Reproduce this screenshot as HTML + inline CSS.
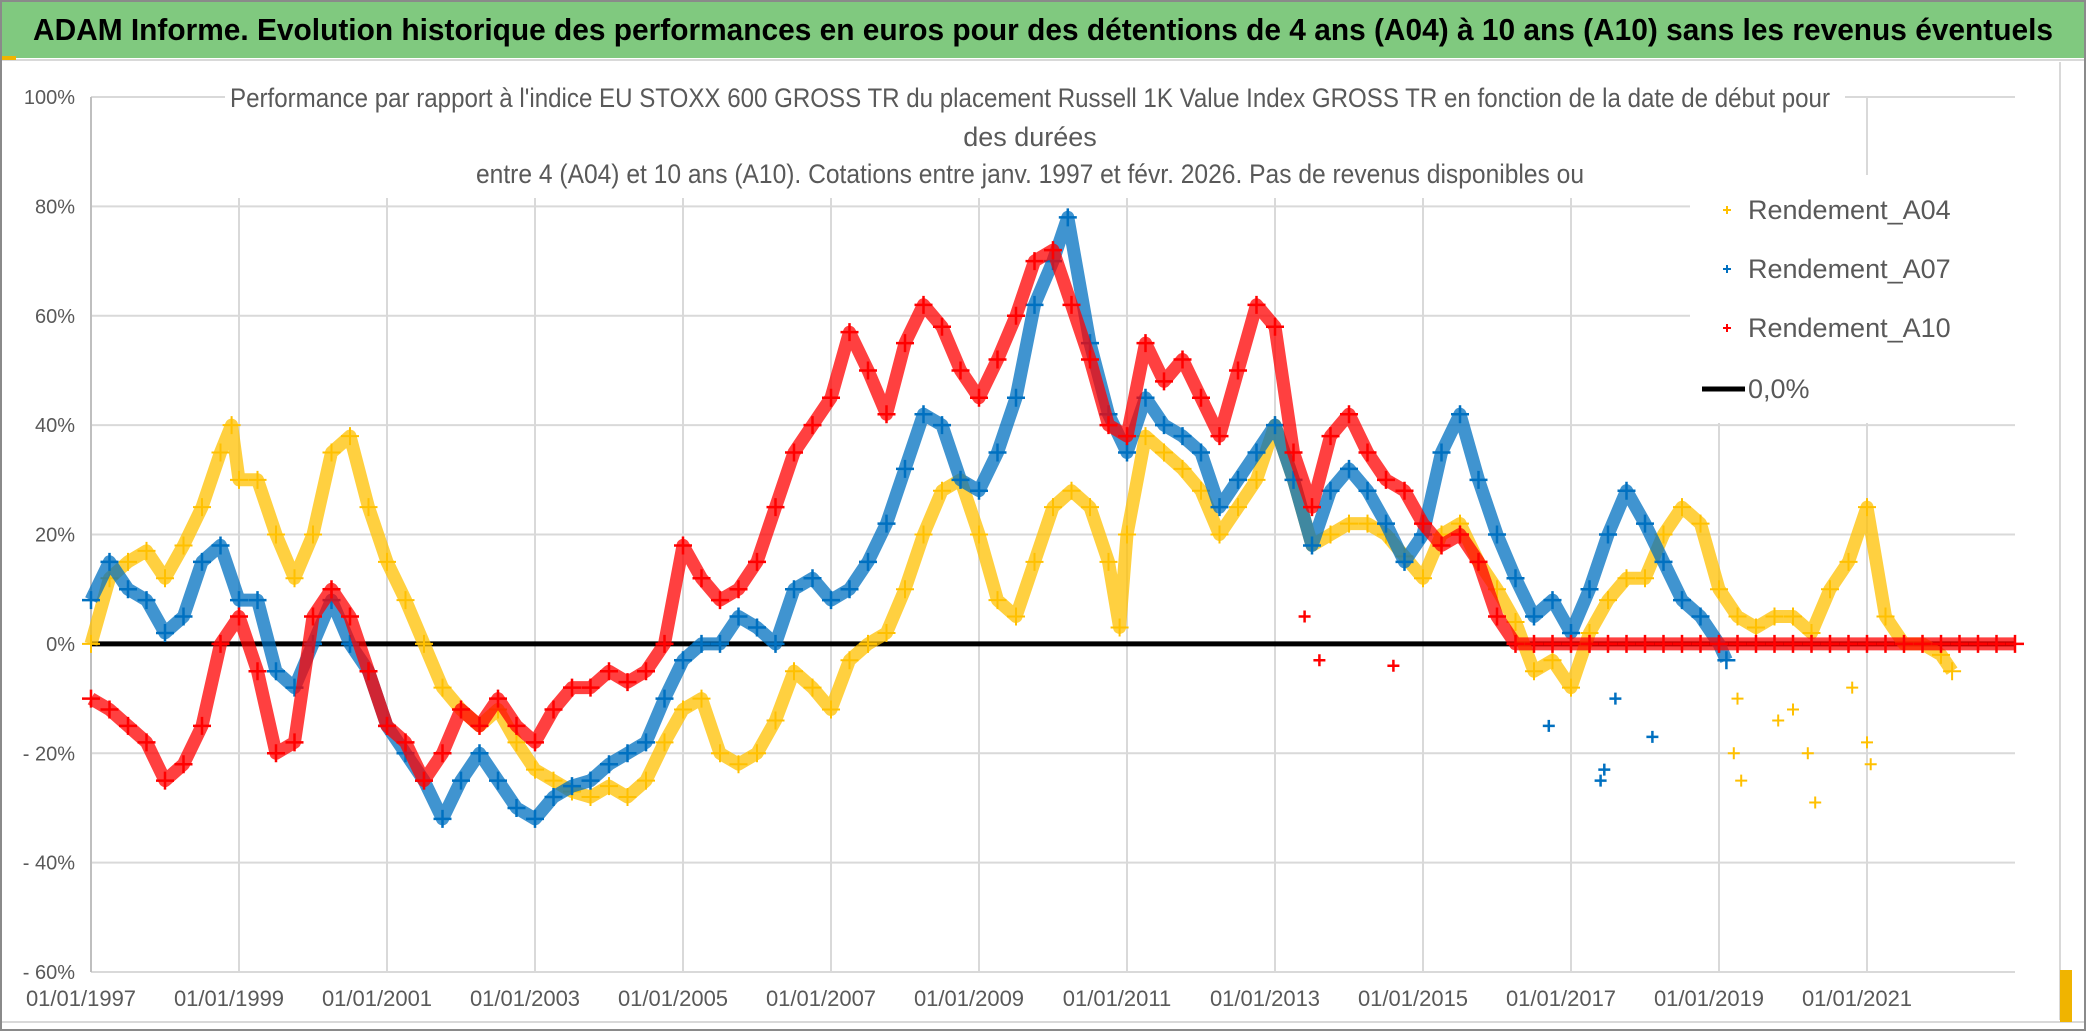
<!DOCTYPE html>
<html><head><meta charset="utf-8"><style>
html,body{margin:0;padding:0;background:#fff;}
svg{display:block;font-family:"Liberation Sans Narrow","Liberation Sans",sans-serif;}
</style></head><body>
<svg id="chart" width="2086" height="1031" viewBox="0 0 2086 1031" xmlns="http://www.w3.org/2000/svg">
<rect x="0" y="0" width="2086" height="1031" fill="#fff"/>
<rect x="1" y="1" width="2084" height="1029" fill="none" stroke="#8a8a8a" stroke-width="2"/>
<rect x="2" y="2" width="2082" height="56" fill="#80c97f"/>
<line x1="2" y1="60" x2="2084" y2="60" stroke="#d9d9d9" stroke-width="2"/>
<rect x="2" y="56" width="14" height="4" fill="#f0b400"/>
<text x="1043" y="40" text-anchor="middle" font-size="31" font-weight="bold" fill="#000" textLength="2020" lengthAdjust="spacingAndGlyphs">ADAM Informe. Evolution historique des performances en euros pour des détentions de 4 ans (A04) à 10 ans (A10) sans les revenus éventuels</text>
<line x1="2060" y1="62" x2="2060" y2="1020" stroke="#d9d9d9" stroke-width="2"/>
<line x1="2" y1="1022" x2="2084" y2="1022" stroke="#d9d9d9" stroke-width="2"/>
<rect x="2060" y="970" width="12" height="52" fill="#f0b400"/>
<g id="grid"></g>
<g id="axes"></g>
<g id="series"></g>
<rect x="225" y="78" width="1620" height="120" fill="#fff"/>
<g fill="#595959" font-size="27" text-anchor="middle">
<text x="1030" y="107" textLength="1600" lengthAdjust="spacingAndGlyphs">Performance par rapport à l'indice EU STOXX 600 GROSS TR  du placement Russell 1K Value Index GROSS TR en fonction de la date de début pour</text>
<text x="1030" y="146">des durées</text>
<text x="1030" y="183" textLength="1108" lengthAdjust="spacingAndGlyphs">entre 4 (A04) et 10 ans (A10). Cotations entre janv. 1997 et févr. 2026. Pas de revenus disponibles ou</text>
</g>
<rect x="1690" y="175" width="343" height="248" fill="#fff"/>
<g id="legend" font-size="27" fill="#595959"></g>
</svg>
<script>
// ---- data ----
const xTicks = [1997,1999,2001,2003,2005,2007,2009,2011,2013,2015,2017,2019,2021];
const xTickLabels = ["01/01/1997","01/01/1999","01/01/2001","01/01/2003","01/01/2005","01/01/2007","01/01/2009","01/01/2011","01/01/2013","01/01/2015","01/01/2017","01/01/2019","01/01/2021"];
const yTicks = [100,80,60,40,20,0,-20,-40,-60];
const yTickLabels = ["100%","80%","60%","40%","20%","0%","- 20%","- 40%","- 60%"];

const a04Dates = [1997,1997.25,1997.5,1997.75,1998,1998.25,1998.5,1998.75,1998.9,1999,1999.25,1999.5,1999.75,2000,2000.25,2000.5,2000.75,2001,2001.25,2001.5,2001.75,2002,2002.25,2002.5,2002.75,2003,2003.25,2003.5,2003.75,2004,2004.25,2004.5,2004.75,2005,2005.25,2005.5,2005.75,2006,2006.25,2006.5,2006.75,2007,2007.25,2007.5,2007.75,2008,2008.25,2008.5,2008.75,2009,2009.25,2009.5,2009.75,2010,2010.25,2010.5,2010.75,2010.9,2011,2011.25,2011.5,2011.75,2012,2012.25,2012.5,2012.75,2013,2013.25,2013.5,2013.75,2014,2014.25,2014.5,2014.75,2015,2015.25,2015.5,2015.75,2016,2016.25,2016.5,2016.75,2017,2017.25,2017.5,2017.75,2018,2018.25,2018.5,2018.75,2019,2019.25,2019.5,2019.75,2020,2020.25,2020.5,2020.75,2021,2021.25,2021.5,2021.75,2022,2022.15];
const a04Values = [0,12,15,17,12,18,25,35,40,30,30,20,12,20,35,38,25,15,8,0,-8,-12,-15,-12,-18,-23,-25,-27,-28,-26,-28,-25,-18,-12,-10,-20,-22,-20,-14,-5,-8,-12,-3,0,2,10,20,28,30,20,8,5,15,25,28,25,15,3,20,38,35,32,28,20,25,30,40,30,18,20,22,22,20,16,12,20,22,15,10,4,-5,-3,-8,2,8,12,12,20,25,22,10,5,3,5,5,2,10,15,25,5,0,0,-2,-5];
const a04OutDates = [2019.2,2019.3,2019.8,2020.0,2020.2,2020.3,2020.8,2021.0,2021.05,2019.25];
const a04OutValues = [-20,-25,-14,-12,-20,-29,-8,-18,-22,-10];

const a07Dates = [1997,1997.25,1997.5,1997.75,1998,1998.25,1998.5,1998.75,1999,1999.25,1999.5,1999.75,2000,2000.25,2000.5,2000.75,2001,2001.25,2001.5,2001.75,2002,2002.25,2002.5,2002.75,2003,2003.25,2003.5,2003.75,2004,2004.25,2004.5,2004.75,2005,2005.25,2005.5,2005.75,2006,2006.25,2006.5,2006.75,2007,2007.25,2007.5,2007.75,2008,2008.25,2008.5,2008.75,2009,2009.25,2009.5,2009.75,2010,2010.2,2010.5,2010.75,2011,2011.25,2011.5,2011.75,2012,2012.25,2012.5,2012.75,2013,2013.25,2013.5,2013.75,2014,2014.25,2014.5,2014.75,2015,2015.25,2015.5,2015.75,2016,2016.25,2016.5,2016.75,2017,2017.25,2017.5,2017.75,2018,2018.25,2018.5,2018.75,2019,2019.1];
const a07Values = [8,15,10,8,2,5,15,18,8,8,-5,-8,0,8,0,-5,-15,-20,-25,-32,-25,-20,-25,-30,-32,-28,-26,-25,-22,-20,-18,-10,-3,0,0,5,3,0,10,12,8,10,15,22,32,42,40,30,28,35,45,62,70,78,55,42,35,45,40,38,35,25,30,35,40,30,18,28,32,28,22,15,20,35,42,30,20,12,5,8,2,10,20,28,22,15,8,5,0,-3];
const a07OutDates = [2016.7,2017.4,2017.45,2017.6,2018.1];
const a07OutValues = [-15,-25,-23,-10,-17];

const a10Dates = [1997,1997.25,1997.5,1997.75,1998,1998.25,1998.5,1998.75,1999,1999.25,1999.5,1999.75,2000,2000.25,2000.5,2000.75,2001,2001.25,2001.5,2001.75,2002,2002.25,2002.5,2002.75,2003,2003.25,2003.5,2003.75,2004,2004.25,2004.5,2004.75,2005,2005.25,2005.5,2005.75,2006,2006.25,2006.5,2006.75,2007,2007.25,2007.5,2007.75,2008,2008.25,2008.5,2008.75,2009,2009.25,2009.5,2009.75,2010,2010.25,2010.5,2010.75,2011,2011.25,2011.5,2011.75,2012,2012.25,2012.5,2012.75,2013,2013.25,2013.5,2013.75,2014,2014.25,2014.5,2014.75,2015,2015.25,2015.5,2015.75,2016,2016.25,2016.5,2016.75,2017,2017.25,2017.5,2017.75,2018,2018.25,2018.5,2018.75,2019,2019.25,2019.5,2019.75,2020,2020.25,2020.5,2020.75,2021,2021.25,2021.5,2021.75,2022,2022.25,2022.5,2022.75,2023];
const a10Values = [-10,-12,-15,-18,-25,-22,-15,0,5,-5,-20,-18,5,10,5,-5,-15,-18,-25,-20,-12,-15,-10,-15,-18,-12,-8,-8,-5,-7,-5,0,18,12,8,10,15,25,35,40,45,57,50,42,55,62,58,50,45,52,60,70,72,62,52,40,38,55,48,52,45,38,50,62,58,35,25,38,42,35,30,28,22,18,20,15,5,0,0,0,0,0,0,0,0,0,0,0,0,0,0,0,0,0,0,0,0,0,0,0,0,0,0,0,0];
const a10OutDates = [2013.4,2013.6,2014.6];
const a10OutValues = [5,-3,-4];

const zeroLineDates = [1997,2023];
const zeroLineValues = [0,0];

// ---- scales ----
const X0 = 91, X1 = 2015, Y0 = 97, Y1 = 972;
const xMin = 1997, xMax = 2023, yMin = -60, yMax = 100;
function xs(t){ return X0 + (t - xMin) / (xMax - xMin) * (X1 - X0); }
function ys(v){ return Y1 - (v - yMin) / (yMax - yMin) * (Y1 - Y0); }

const NS = "http://www.w3.org/2000/svg";
function mk(tag, attrs, parent){
  const e = document.createElementNS(NS, tag);
  for (const k in attrs) e.setAttribute(k, attrs[k]);
  parent.appendChild(e);
  return e;
}
const grid = document.getElementById('grid');
const axes = document.getElementById('axes');
const series = document.getElementById('series');
const legend = document.getElementById('legend');

yTicks.forEach((v, i) => {
  const l = mk('line', {x1: X0, x2: X1, y1: ys(v), y2: ys(v), stroke: '#d9d9d9', 'stroke-width': 2}, grid);
  
  
  const t = mk('text', {x: 75, y: ys(v) + 7, 'text-anchor': 'end', 'font-size': 20, fill: '#595959'}, axes);
  t.textContent = yTickLabels[i];
  
  
});
xTicks.forEach((d, i) => {
  if (i > 0) {
    const l = mk('line', {x1: xs(d), x2: xs(d), y1: Y0, y2: Y1, stroke: '#d9d9d9', 'stroke-width': 2}, grid);
    
    
  }
  const t = mk('text', {x: xs(d) - 10, y: 1006, 'text-anchor': 'middle', 'font-size': 22, fill: '#595959'}, axes);
  t.textContent = xTickLabels[i];
  
  
});
const ya = mk('line', {x1: X0, x2: X0, y1: Y0, y2: Y1, stroke: '#bfbfbf', 'stroke-width': 2}, axes);



function plus(x, y, color, s, w, parent){
  const p = mk('path', {d: `M${x-s},${y}H${x+s}M${x},${y-s}V${y+s}`, stroke: color, 'stroke-width': w, fill: 'none'}, parent);
  return p;
}
function drawSeries(name, dates, vals, odates, ovals, color, w){
  const g = mk('g', {}, series);
  
  
  let d = '';
  dates.forEach((t, i) => { d += (i ? 'L' : 'M') + xs(t).toFixed(1) + ',' + ys(vals[i]).toFixed(1); });
  const band = mk('path', {d: d, stroke: color, 'stroke-width': 13, fill: 'none', 'stroke-linejoin': 'round', opacity: 0.75}, g);
  
  
  dates.forEach((t, i) => {
    const m = plus(xs(t), ys(vals[i]), color, 9, w, g);
    
    
  });
  odates.forEach((t, i) => {
    const m = plus(xs(t), ys(ovals[i]), color, 6, w, g);
    
    
  });
}
const zl = mk('line', {x1: xs(zeroLineDates[0]), x2: xs(zeroLineDates[1]), y1: ys(zeroLineValues[0]), y2: ys(zeroLineValues[1]), stroke: '#000', 'stroke-width': 5}, series);


drawSeries('series-a04', a04Dates, a04Values, a04OutDates, a04OutValues, '#ffc000', 2);
drawSeries('series-a07', a07Dates, a07Values, a07OutDates, a07OutValues, '#0070c0', 2.5);
drawSeries('series-a10', a10Dates, a10Values, a10OutDates, a10OutValues, '#ff0000', 2.5);

const legendNames = ["Rendement_A04","Rendement_A07","Rendement_A10","0,0%"];
const legendColors = ['#ffc000','#0070c0','#ff0000','#000'];
const legendY = [210, 269, 328, 389];
legendNames.forEach((n, i) => {
  const g = mk('g', {}, legend);
  
  
  if (i < 3) plus(1727, legendY[i], legendColors[i], 4, 2, g);
  else mk('line', {x1: 1702, x2: 1745, y1: legendY[i], y2: legendY[i], stroke: '#000', 'stroke-width': 5}, g);
  const t = mk('text', {x: 1748, y: legendY[i] + 9}, g);
  t.textContent = n;
});
</script>
</body></html>
